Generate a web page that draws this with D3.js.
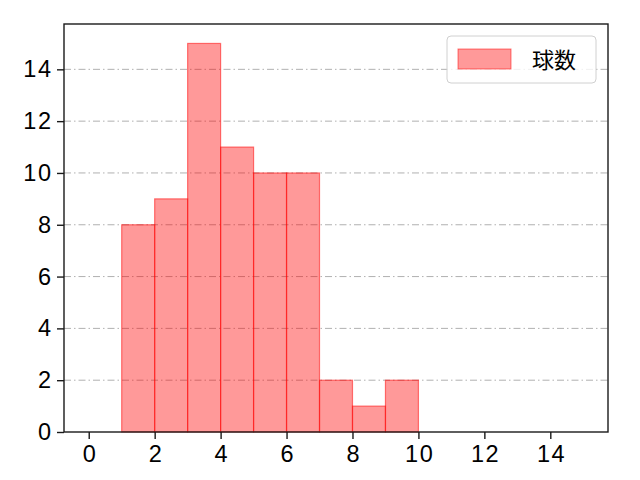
<!DOCTYPE html>
<html>
<head>
<meta charset="utf-8">
<script src="https://cdn.jsdelivr.net/npm/d3@7"></script>
<style>
  body { margin: 0; background: #fff; }
  text { font-family: "Noto Sans CJK JP", "DejaVu Sans", sans-serif; }
</style>
</head>
<body>
<script>
// histogram bins and counts
var binStarts = [1, 2, 3, 4, 5, 6, 7, 8, 9];
var counts = [8, 9, 15, 11, 10, 10, 2, 1, 2];
var xTicks = [0, 2, 4, 6, 8, 10, 12, 14];
var yTicks = [0, 2, 4, 6, 8, 10, 12, 14];
var seriesName = "球数";

var width = 640, height = 480;
var margin = {left: 64, right: 32, top: 24, bottom: 48};

var svg = d3.select("body").append("svg")
    .attr("width", width)
    .attr("height", height);

var x = d3.scaleLinear().domain([-0.75, 15.75]).range([margin.left, width - margin.right]);
var y = d3.scaleLinear().domain([0, 15.75]).range([height - margin.bottom, margin.top]);

// ====== GRID ======
svg.selectAll(".grid")
    .data(yTicks.filter(function(d) { return d > 0; }))
    .enter().append("line")
        .attr("class", "grid")
        .attr("x1", x.range()[0])
        .attr("x2", x.range()[1])
        .attr("y1", function(d) { return y(d) })
        .attr("y2", function(d) { return y(d) })
        .style("stroke", "#b0b0b0")
        .style("stroke-width", 1)
        .style("stroke-dasharray", "7,3,1.5,3");

// ====== BARS ======
svg.selectAll(".bar")
    .data(binStarts)
    .enter().append("rect")
        .attr("class", "bar")
        .attr("x", function(d) { return x(d) })
        .attr("width", function(d) { return x(d + 1) - x(d) })
        .attr("y", function(d, i) { return y(counts[i]) })
        .attr("height", function(d, i) { return y(0) - y(counts[i]) })
        .style("fill", "rgba(255,0,0,0.4)")
        .style("stroke", "rgba(255,0,0,0.5)")
        .style("stroke-width", 1.2);

// ====== AXES ======
var xAxis = svg.append("g")
    .attr("transform", "translate(0," + y(0) + ")")
    .call(d3.axisBottom(x).tickValues(xTicks).tickSize(7).tickPadding(6));
var yAxis = svg.append("g")
    .attr("transform", "translate(" + x.range()[0] + ",0)")
    .call(d3.axisLeft(y).tickValues(yTicks).tickSize(7).tickPadding(6));

[xAxis, yAxis].forEach(function(g) {
    g.select(".domain").remove();
    g.selectAll(".tick line").style("stroke", "#1a1a1a").style("stroke-width", 1.4);
    g.selectAll(".tick text")
        .style("font-family", "'Liberation Sans', Arial, sans-serif")
        .style("font-size", "23.5px")
        .style("letter-spacing", "1.5px")
        .style("fill", "#000");
});
// letter-spacing leaves a gap after the last digit, shift it back
xAxis.selectAll(".tick text").attr("dx", 0.75);
yAxis.selectAll(".tick text").attr("dx", 1.5);

// frame
svg.append("rect")
    .attr("x", x.range()[0])
    .attr("y", y.range()[1])
    .attr("width", x.range()[1] - x.range()[0])
    .attr("height", y.range()[0] - y.range()[1])
    .style("fill", "none")
    .style("stroke", "#1a1a1a")
    .style("stroke-width", 1.4);

// ====== LEGEND ======
var lg = svg.append("g").attr("transform", "translate(447,36)");
lg.append("rect")
    .attr("width", 149)
    .attr("height", 47)
    .attr("rx", 4)
    .style("fill", "rgba(255,255,255,0.8)")
    .style("stroke", "#d0d0d0");
lg.append("rect")
    .attr("x", 11)
    .attr("y", 13)
    .attr("width", 53)
    .attr("height", 20)
    .style("fill", "rgba(255,0,0,0.4)")
    .style("stroke", "rgba(255,0,0,0.5)");
lg.append("text")
    .attr("x", 85)
    .attr("y", 32)
    .style("font-size", "22px")
    .text(seriesName);
</script>
</body>
</html>
